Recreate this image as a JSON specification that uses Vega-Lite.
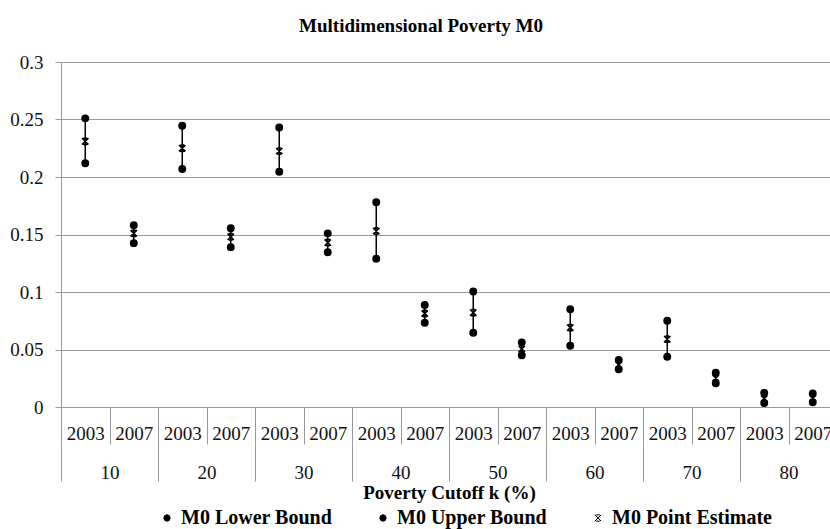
{
  "$schema": "https://vega.github.io/schema/vega-lite/v6.json",
  "autosize": {"type": "none"},
  "padding": {"left": 61, "top": 62, "right": -7, "bottom": 122},
  "width": 776,
  "height": 345,
  "background": "white",
  "title": {
    "text": "Multidimensional Poverty M0",
    "font": "Liberation Serif, DejaVu Serif, serif",
    "fontSize": 19,
    "fontWeight": "bold",
    "color": "#000000",
    "anchor": "middle",
    "baseline": "alphabetic",
    "offset": 2,
    "dx": -28
  },
  "config": {
    "view": {"stroke": null},
    "font": "Liberation Serif, DejaVu Serif, serif",
    "axis": {
      "labelFont": "Liberation Serif, DejaVu Serif, serif",
      "labelFontSize": 19,
      "labelColor": "#111111",
      "titleFont": "Liberation Serif, DejaVu Serif, serif",
      "titleFontSize": 19,
      "titleFontWeight": "bold",
      "titleColor": "#000000",
      "domainColor": "#999999",
      "tickColor": "#999999",
      "gridColor": "#999999"
    },
    "legend": {
      "labelFont": "Liberation Serif, DejaVu Serif, serif"
    }
  },
  "data": {
    "values": [
      {"cutoff": "10", "year": "2003", "cat": "10-2003", "lower": 0.212, "upper": 0.251, "point": 0.231},
      {"cutoff": "10", "year": "2007", "cat": "10-2007", "lower": 0.1425, "upper": 0.158, "point": 0.151},
      {"cutoff": "20", "year": "2003", "cat": "20-2003", "lower": 0.207, "upper": 0.2445, "point": 0.225},
      {"cutoff": "20", "year": "2007", "cat": "20-2007", "lower": 0.139, "upper": 0.1555, "point": 0.148},
      {"cutoff": "30", "year": "2003", "cat": "30-2003", "lower": 0.2045, "upper": 0.243, "point": 0.2225},
      {"cutoff": "30", "year": "2007", "cat": "30-2007", "lower": 0.1345, "upper": 0.151, "point": 0.143},
      {"cutoff": "40", "year": "2003", "cat": "40-2003", "lower": 0.129, "upper": 0.178, "point": 0.153},
      {"cutoff": "40", "year": "2007", "cat": "40-2007", "lower": 0.0733, "upper": 0.0887, "point": 0.0813},
      {"cutoff": "50", "year": "2003", "cat": "50-2003", "lower": 0.0646, "upper": 0.1005, "point": 0.082},
      {"cutoff": "50", "year": "2007", "cat": "50-2007", "lower": 0.045, "upper": 0.0562, "point": 0.0505},
      {"cutoff": "60", "year": "2003", "cat": "60-2003", "lower": 0.0533, "upper": 0.085, "point": 0.069},
      {"cutoff": "60", "year": "2007", "cat": "60-2007", "lower": 0.0328, "upper": 0.041, "point": 0.0366},
      {"cutoff": "70", "year": "2003", "cat": "70-2003", "lower": 0.0437, "upper": 0.075, "point": 0.059},
      {"cutoff": "70", "year": "2007", "cat": "70-2007", "lower": 0.0206, "upper": 0.0298, "point": 0.0252},
      {"cutoff": "80", "year": "2003", "cat": "80-2003", "lower": 0.0035, "upper": 0.0123, "point": 0.0073},
      {"cutoff": "80", "year": "2007", "cat": "80-2007", "lower": 0.0042, "upper": 0.0118, "point": 0.0076}
    ]
  },
  "layer": [
    {
      "encoding": {
        "x": {
          "field": "cat",
          "type": "nominal",
          "sort": null,
          "scale": {"type": "band", "paddingInner": 0, "paddingOuter": 0},
          "axis": {
            "title": null,
            "orient": "bottom",
            "labelExpr": "split(datum.value, '-')[1]",
            "labelAngle": 0,
            "labelBaseline": "alphabetic",
            "labelPadding": -5,
            "tickSize": 37,
            "tickBand": "extent",
            "domain": true,
            "grid": false
          }
        }
      },
      "layer": [
        {
          "mark": {"type": "rule", "color": "#000000", "strokeWidth": 1.5},
          "encoding": {
            "y": {
              "field": "lower",
              "type": "quantitative",
              "title": null,
              "scale": {"domain": [0, 0.3], "nice": false, "zero": true},
              "axis": {
                "values": [0, 0.05, 0.1, 0.15, 0.2, 0.25, 0.3],
                "format": "~g",
                "grid": true,
                "tickSize": 6,
                "labelPadding": 12,
                "domain": true
              }
            },
            "y2": {"field": "upper"}
          }
        },
        {
          "transform": [{"fold": ["lower", "upper", "point"], "as": ["series", "value"]}],
          "mark": {"type": "point", "filled": true, "stroke": "#000000", "strokeWidth": 1.6, "opacity": 1},
          "encoding": {
            "y": {"field": "value", "type": "quantitative", "title": null},
            "color": {
              "field": "series",
              "type": "nominal",
              "scale": {"domain": ["lower", "upper", "point"], "range": ["#000000", "#000000", "#000000"]},
              "legend": {
                "title": null,
                "orient": "none",
                "legendX": 96,
                "legendY": 446,
                "direction": "horizontal",
                "columns": 3,
                "gridAlign": "each",
                "columnPadding": 40,
                "padding": 0,
                "symbolSize": 22,
                "symbolStrokeColor": "#000000",
                "symbolStrokeWidth": 1,
                "symbolFillColor": "#000000",
                "labelFont": "Liberation Serif, DejaVu Serif, serif",
                "labelFontSize": 20,
                "labelFontWeight": "bold",
                "labelColor": "#000000",
                "labelOffset": 4,
                "labelLimit": 300,
                "labelExpr": "datum.label == 'lower' ? 'M0 Lower Bound' : datum.label == 'upper' ? 'M0 Upper Bound' : 'M0 Point Estimate'"
              }
            },
            "shape": {
              "field": "series",
              "type": "nominal",
              "scale": {
                "domain": ["lower", "upper", "point"],
                "range": ["circle", "circle", "M-1,-1L1,1M1,-1L-1,1M-0.6,-1L0.6,-1M-0.6,1L0.6,1"]
              },
              "legend": null
            },
            "size": {
              "field": "series",
              "type": "nominal",
              "scale": {"domain": ["lower", "upper", "point"], "range": [40, 40, 52]},
              "legend": null
            }
          }
        }
      ]
    },
    {
      "mark": {"type": "tick", "opacity": 0},
      "encoding": {
        "x": {
          "field": "cutoff",
          "type": "nominal",
          "scale": {"type": "band", "paddingInner": 0, "paddingOuter": 0},
          "axis": {
            "title": "Poverty Cutoff k (%)",
            "orient": "bottom",
            "offset": 37,
            "domain": false,
            "labelAngle": 0,
            "labelBaseline": "alphabetic",
            "labelPadding": -3,
            "tickSize": 37,
            "tickBand": "extent",
            "titlePadding": 1,
            "grid": false
          }
        },
        "y": {"field": "point", "type": "quantitative", "title": null}
      }
    }
  ],
  "resolve": {"scale": {"x": "independent"}, "axis": {"x": "independent"}}
}
